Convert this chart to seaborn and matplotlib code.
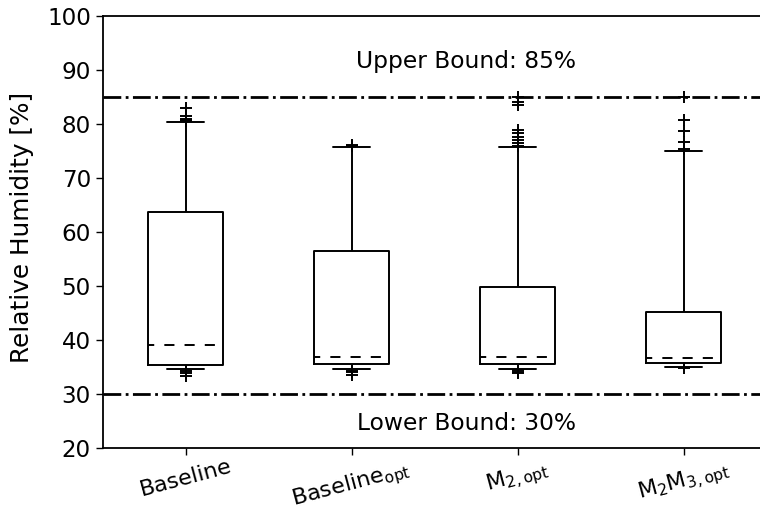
import numpy as np
import pandas as pd
import matplotlib
matplotlib.use("Agg")
import matplotlib.pyplot as plt
import seaborn as sns

# ---- data ----
categories = ["Baseline", "Baseline_opt", "M2_opt", "M2M3_opt"]
tick_labels = ["Baseline", r"Baseline$_{opt}$", r"M$_{2,opt}$", r"M$_2$M$_{3,opt}$"]
whisker_low = [34.6, 34.7, 34.7, 35.05]
q1 = [35.4, 35.56, 35.56, 35.7]
median = [39.05, 36.8, 36.8, 36.67]
q3 = [63.75, 56.4, 49.75, 45.1]
whisker_high = [80.3, 75.7, 75.75, 75.0]
fliers_low = [[33.3, 33.8, 34.3], [33.6, 34.0, 34.3], [33.8, 34.1, 34.4], [34.9]]
fliers_high = [[80.6, 80.8, 81.0, 81.5, 83.0],
               [75.9, 76.1],
               [76.0, 76.4, 77.0, 77.6, 78.3, 78.9, 83.5, 84.1, 85.0],
               [75.3, 76.6, 78.7, 80.7, 85.0]]
upper_bound = 85
lower_bound = 30

# Build a long table whose percentiles reproduce the read statistics
block = 100
rows = []
for i, cat in enumerate(categories):
    vals = (list(fliers_low[i])
            + [whisker_low[i]] * block + [q1[i]] * block + [median[i]] * block
            + [q3[i]] * block + [whisker_high[i]] * block
            + list(fliers_high[i]))
    rows += [(cat, v) for v in vals]
df = pd.DataFrame(rows, columns=["case", "rh"])

sns.set_theme(style="ticks")
plt.rcParams["font.family"] = ["DejaVu Sans"]
plt.rcParams["mathtext.default"] = "regular"
plt.rcParams["text.color"] = "black"
plt.rcParams["axes.labelcolor"] = "black"
plt.rcParams["xtick.color"] = "black"
plt.rcParams["ytick.color"] = "black"

fig = plt.figure(figsize=(7.6, 5.14), dpi=100)
ax = fig.add_axes([102.7 / 760, 66 / 514, 664 / 760, 432 / 514])

lw = 1.4
sns.boxplot(data=df, x="case", y="rh", order=categories, ax=ax,
            whis=(5, 95), width=0.45, fill=False, color="black", linewidth=lw,
            boxprops=dict(color="black", linewidth=lw),
            whiskerprops=dict(color="black", linewidth=lw),
            capprops=dict(color="black", linewidth=lw),
            medianprops=dict(color="black", linewidth=lw, linestyle=(2, (5.2, 5.2))),
            flierprops=dict(marker="+", markersize=8, markeredgecolor="black",
                            markeredgewidth=1.4, linestyle="none"))

ax.axhline(upper_bound, color="black", linestyle="-.", linewidth=2)
ax.axhline(lower_bound, color="black", linestyle="-.", linewidth=2)
ax.text(1.69, 91.6, f"Upper Bound: {upper_bound}%", ha="center", va="center",
        fontsize=16.8, color="black")
ax.text(1.69, 24.6, f"Lower Bound: {lower_bound}%", ha="center", va="center",
        fontsize=16.8, color="black")

ax.set_ylim(20, 100)
ax.set_yticks(np.arange(20, 101, 10))
ax.set_xlim(-0.5, 3.5)
ax.set_xticks(range(len(categories)))
ax.set_xticklabels(tick_labels, rotation=15, ha="center", fontsize=16)
ax.tick_params(axis="x", pad=1)
ax.tick_params(axis="y", labelsize=16.6)
ax.set_xlabel("")
ax.set_ylabel("Relative Humidity [%]", fontsize=17.8)
ax.yaxis.set_label_coords(-0.1035, 0.51)
for s in ax.spines.values():
    s.set_linewidth(1.3)
    s.set_color("black")
ax.spines["right"].set_visible(False)
ax.tick_params(colors="black", width=1.0, length=5)

fig.savefig("out.png", dpi=100)
